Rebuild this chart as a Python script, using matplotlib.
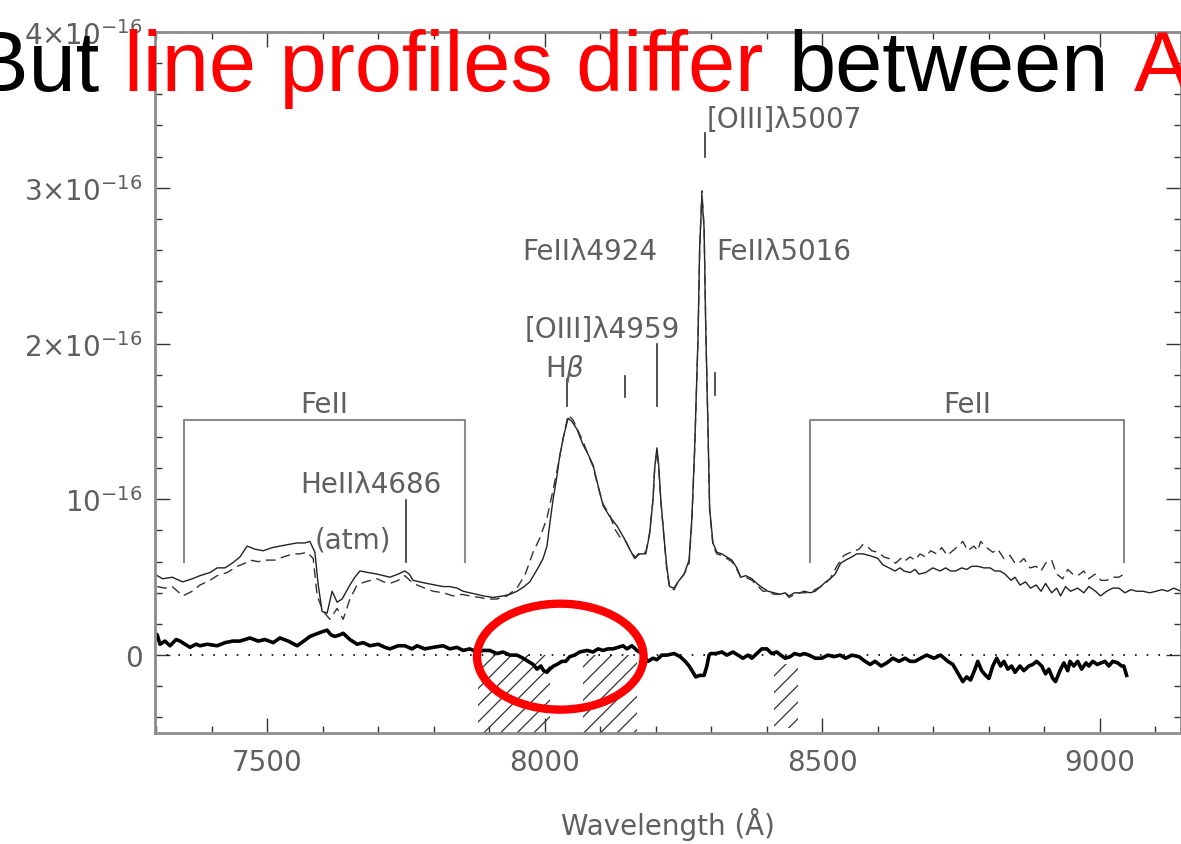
import matplotlib
matplotlib.use("Agg")
import matplotlib.pyplot as plt
from matplotlib.patches import Ellipse
from matplotlib.ticker import MultipleLocator, FixedLocator

# Fluxes are in units of 1e-16 erg/s/cm2/A, wavelengths in observed Angstrom

# spectrum A (thin solid)
wl_a = [7302, 7312, 7329, 7348, 7365, 7379, 7397, 7410, 7424, 7437, 7451, 7464, 7478, 7493,
        7509, 7523, 7538, 7554, 7568, 7577, 7586, 7592, 7599, 7608, 7617, 7626, 7635, 7649,
        7658, 7667, 7682, 7698, 7710, 7721, 7736, 7748, 7756, 7763, 7775, 7788, 7802, 7817,
        7829, 7842, 7853, 7865, 7878, 7889, 7907, 7925, 7937, 7950, 7963, 7973, 7988, 7997,
        8004, 8009, 8015, 8022, 8027, 8035, 8042, 8049, 8058, 8069, 8078, 8087, 8096, 8105,
        8117, 8130, 8143, 8153, 8162, 8171, 8182, 8189, 8195, 8198, 8202, 8205, 8209, 8215,
        8220, 8225, 8233, 8240, 8251, 8260, 8265, 8270, 8276, 8279, 8283, 8287, 8290, 8294,
        8297, 8303, 8310, 8319, 8328, 8337, 8346, 8353, 8362, 8373, 8382, 8393, 8402, 8413,
        8424, 8433, 8440, 8450, 8460, 8467, 8478, 8487, 8497, 8506, 8514, 8523, 8533, 8542,
        8553, 8562, 8573, 8584, 8593, 8600, 8609, 8620, 8631, 8640, 8647, 8658, 8667, 8674,
        8686, 8699, 8712, 8722, 8731, 8740, 8751, 8760, 8769, 8780, 8791, 8802, 8811, 8820,
        8829, 8840, 8847, 8856, 8866, 8875, 8885, 8894, 8902, 8913, 8922, 8929, 8938, 8947,
        8960, 8971, 8980, 8992, 9001, 9012, 9023, 9034, 9045, 9056, 9066, 9077, 9090, 9101,
        9112, 9122, 9133, 9146]
flux_a = [0.51, 0.49, 0.50, 0.47, 0.49, 0.51, 0.53, 0.56, 0.56, 0.59, 0.63, 0.70, 0.68, 0.67,
          0.69, 0.70, 0.71, 0.72, 0.72, 0.73, 0.66, 0.45, 0.28, 0.27, 0.41, 0.34, 0.36, 0.45,
          0.50, 0.54, 0.53, 0.52, 0.51, 0.50, 0.52, 0.54, 0.52, 0.48, 0.47, 0.46, 0.45, 0.44,
          0.44, 0.43, 0.41, 0.40, 0.39, 0.38, 0.37, 0.38, 0.39, 0.41, 0.44, 0.47, 0.56, 0.62,
          0.70, 0.84, 1.00, 1.15, 1.28, 1.42, 1.52, 1.50, 1.45, 1.35, 1.29, 1.22, 1.09, 0.96,
          0.89, 0.83, 0.75, 0.68, 0.62, 0.65, 0.65, 0.78, 1.00, 1.20, 1.33, 1.23, 1.00, 0.75,
          0.56, 0.44, 0.43, 0.47, 0.52, 0.61, 0.88, 1.33, 2.03, 2.61, 2.95, 2.74, 2.10, 1.46,
          0.94, 0.72, 0.66, 0.65, 0.63, 0.61, 0.56, 0.50, 0.51, 0.49, 0.46, 0.43, 0.41, 0.40,
          0.39, 0.40, 0.38, 0.40, 0.40, 0.41, 0.40, 0.41, 0.44, 0.47, 0.49, 0.52, 0.59, 0.61,
          0.63, 0.65, 0.65, 0.64, 0.63, 0.62, 0.58, 0.56, 0.54, 0.56, 0.54, 0.53, 0.55, 0.52,
          0.53, 0.56, 0.54, 0.56, 0.54, 0.54, 0.56, 0.55, 0.57, 0.57, 0.56, 0.56, 0.54, 0.54,
          0.52, 0.48, 0.50, 0.45, 0.47, 0.43, 0.45, 0.41, 0.46, 0.40, 0.43, 0.38, 0.44, 0.41,
          0.43, 0.40, 0.44, 0.41, 0.38, 0.41, 0.43, 0.43, 0.40, 0.42, 0.41, 0.41, 0.40, 0.41,
          0.42, 0.41, 0.43, 0.41]

# spectrum B (thin dashed)
wl_b = [7302, 7316, 7329, 7348, 7365, 7379, 7397, 7410, 7428, 7446, 7460, 7469, 7484, 7500,
        7514, 7529, 7547, 7559, 7572, 7583, 7590, 7601, 7613, 7626, 7637, 7649, 7662, 7676,
        7698, 7710, 7721, 7736, 7748, 7757, 7770, 7784, 7799, 7817, 7835, 7851, 7865, 7883,
        7896, 7914, 7932, 7950, 7965, 7979, 7991, 8004, 8015, 8024, 8033, 8042, 8051, 8060,
        8069, 8078, 8087, 8096, 8105, 8117, 8126, 8135, 8146, 8157, 8164, 8171, 8182, 8189,
        8195, 8198, 8202, 8205, 8209, 8215, 8220, 8225, 8233, 8240, 8251, 8260, 8265, 8270,
        8276, 8279, 8283, 8287, 8290, 8294, 8297, 8303, 8310, 8319, 8328, 8337, 8346, 8353,
        8362, 8373, 8382, 8393, 8402, 8413, 8424, 8433, 8440, 8450, 8460, 8470, 8481, 8492,
        8502, 8514, 8526, 8539, 8551, 8566, 8573, 8580, 8589, 8600, 8611, 8620, 8632, 8641,
        8647, 8658, 8667, 8676, 8686, 8695, 8706, 8715, 8725, 8738, 8748, 8753, 8762, 8773,
        8780, 8785, 8796, 8807, 8816, 8827, 8838, 8847, 8854, 8863, 8874, 8885, 8894, 8902,
        8913, 8922, 8933, 8942, 8951, 8960, 8971, 8980, 8991, 9002, 9012, 9023, 9034, 9043,
        9048]
flux_b = [0.44, 0.43, 0.44, 0.38, 0.41, 0.45, 0.48, 0.51, 0.53, 0.57, 0.59, 0.61, 0.60, 0.61,
          0.61, 0.63, 0.65, 0.65, 0.66, 0.62, 0.38, 0.28, 0.23, 0.30, 0.23, 0.36, 0.45, 0.47,
          0.49, 0.47, 0.46, 0.48, 0.51, 0.48, 0.45, 0.43, 0.41, 0.40, 0.38, 0.39, 0.38, 0.37,
          0.36, 0.36, 0.38, 0.43, 0.52, 0.66, 0.75, 0.88, 1.06, 1.22, 1.39, 1.54, 1.51, 1.44,
          1.37, 1.29, 1.21, 1.08, 0.97, 0.90, 0.81, 0.76, 0.73, 0.65, 0.63, 0.66, 0.66, 0.79,
          1.00, 1.20, 1.31, 1.22, 0.99, 0.74, 0.54, 0.43, 0.42, 0.47, 0.52, 0.59, 0.86, 1.31,
          2.02, 2.60, 2.98, 2.75, 2.10, 1.46, 0.93, 0.70, 0.65, 0.64, 0.62, 0.60, 0.55, 0.50,
          0.50, 0.48, 0.45, 0.41, 0.41, 0.39, 0.39, 0.40, 0.37, 0.39, 0.40, 0.40, 0.41, 0.43,
          0.45, 0.49, 0.57, 0.64, 0.66, 0.68, 0.71, 0.70, 0.67, 0.66, 0.63, 0.62, 0.59, 0.62,
          0.60, 0.63, 0.61, 0.65, 0.63, 0.67, 0.65, 0.69, 0.64, 0.68, 0.71, 0.73, 0.67, 0.70,
          0.67, 0.73, 0.69, 0.66, 0.68, 0.62, 0.64, 0.59, 0.59, 0.62, 0.56, 0.57, 0.54, 0.59,
          0.61, 0.52, 0.49, 0.55, 0.52, 0.51, 0.54, 0.49, 0.52, 0.48, 0.48, 0.50, 0.50, 0.52,
          0.54]

# A - B difference (thick)
wl_diff = [7298, 7302, 7307, 7316, 7325, 7336, 7343, 7352, 7361, 7372, 7379, 7392, 7410, 7424,
           7438, 7451, 7469, 7484, 7496, 7511, 7523, 7538, 7554, 7566, 7577, 7592, 7599, 7608,
           7615, 7622, 7631, 7637, 7649, 7662, 7673, 7685, 7700, 7712, 7721, 7736, 7748, 7761,
           7770, 7784, 7799, 7817, 7829, 7842, 7853, 7865, 7878, 7889, 7901, 7914, 7925, 7937,
           7950, 7961, 7970, 7979, 7986, 7993, 7998, 8004, 8009, 8016, 8022, 8031, 8038, 8045,
           8054, 8063, 8076, 8087, 8096, 8105, 8114, 8123, 8132, 8141, 8148, 8157, 8166, 8175,
           8186, 8195, 8202, 8211, 8220, 8233, 8244, 8253, 8260, 8267, 8272, 8279, 8287, 8292,
           8296, 8299, 8308, 8319, 8328, 8339, 8348, 8357, 8366, 8373, 8382, 8391, 8400, 8409,
           8418, 8425, 8433, 8442, 8450, 8460, 8467, 8476, 8487, 8499, 8510, 8521, 8532, 8542,
           8553, 8566, 8577, 8586, 8595, 8606, 8616, 8627, 8638, 8649, 8658, 8667, 8677, 8688,
           8701, 8713, 8726, 8735, 8740, 8748, 8753, 8760, 8767, 8775, 8780, 8787, 8794, 8800,
           8807, 8814, 8821, 8827, 8834, 8841, 8847, 8856, 8863, 8872, 8879, 8886, 8895, 8902,
           8908, 8915, 8920, 8928, 8935, 8942, 8946, 8953, 8960, 8967, 8975, 8980, 8987, 8995,
           9002, 9009, 9016, 9023, 9032, 9039, 9043, 9048]
flux_diff = [0.14, 0.13, 0.07, 0.09, 0.06, 0.10, 0.09, 0.07, 0.05, 0.07, 0.06, 0.07, 0.06, 0.08,
             0.09, 0.09, 0.11, 0.09, 0.10, 0.08, 0.11, 0.09, 0.06, 0.09, 0.12, 0.14, 0.15, 0.16,
             0.13, 0.12, 0.13, 0.14, 0.10, 0.07, 0.08, 0.06, 0.07, 0.05, 0.04, 0.06, 0.06, 0.04,
             0.06, 0.04, 0.05, 0.06, 0.04, 0.05, 0.03, 0.04, 0.02, 0.03, 0.03, 0.01, 0.02, 0.00,
             0.00, -0.02, -0.04, -0.06, -0.09, -0.07, -0.10, -0.11, -0.09, -0.07, -0.06, -0.04, -0.04, -0.01,
             0.00, 0.02, 0.03, 0.02, 0.04, 0.03, 0.04, 0.04, 0.05, 0.06, 0.04, 0.06, 0.03, 0.01,
             -0.04, -0.02, -0.03, 0.00, 0.00, 0.01, -0.01, -0.04, -0.07, -0.11, -0.14, -0.13, -0.13, -0.07,
             0.00, 0.01, 0.01, 0.02, 0.00, 0.02, 0.00, -0.02, 0.00, -0.02, 0.01, 0.04, 0.04, 0.01,
             0.02, 0.00, -0.02, -0.01, 0.01, 0.00, 0.01, 0.00, -0.02, -0.02, 0.00, -0.01, 0.00, -0.02,
             0.00, -0.01, -0.04, -0.06, -0.04, -0.07, -0.05, -0.02, -0.04, -0.02, -0.04, -0.04, -0.02, 0.00,
             -0.02, 0.00, -0.04, -0.06, -0.09, -0.14, -0.17, -0.14, -0.16, -0.09, -0.04, -0.10, -0.13, -0.15,
             -0.07, -0.02, -0.07, -0.04, -0.09, -0.07, -0.11, -0.07, -0.10, -0.07, -0.06, -0.04, -0.07, -0.12,
             -0.09, -0.15, -0.17, -0.10, -0.05, -0.10, -0.04, -0.07, -0.04, -0.09, -0.05, -0.07, -0.04, -0.06,
             -0.05, -0.04, -0.07, -0.04, -0.05, -0.07, -0.07, -0.13]

# FeII blends marked with brackets
feii_lo = [7350, 8478]
feii_hi = [7857, 9043]
feii_top = 1.51
feii_foot = 0.60

# line identifications: label position and marker stroke
line_names = ["HeIIλ4686", "(atm)", r"H$\beta$", "[OIII]λ4959", "FeIIλ4924", "FeIIλ5016", "[OIII]λ5007"]
label_wl = [7687, 7655, 8036, 8103, 8081, 8309, 8291]
label_flux = [1.05, 0.69, 1.79, 2.04, 2.545, 2.545, 3.39]
label_ha = ["center", "center", "center", "center", "center", "left", "left"]
mark_wl = [7750, None, 8040, 8203, 8144, 8307, 8289]
mark_lo = [0.60, None, 1.60, 1.60, 1.66, 1.67, 3.20]
mark_hi = [0.995, None, 1.775, 2.00, 1.79, 1.81, 3.35]

# hatched bad-pixel regions under the residual
hatch_lo_wl = [7880, 8069, 8413]
hatch_hi_wl = [8010, 8166, 8456]
hatch_bottom = [-0.5, -0.5, -0.47]
hatch_top = [0.0, 0.0, -0.06]

GREY = "#5f5f5f"

fig = plt.figure(figsize=(11.81, 8.45), dpi=100)
ax = fig.add_axes([155 / 1181, 111 / 845, 1026 / 1181, 701 / 845])

ax.plot(wl_a, flux_a, color="#222222", lw=1.0)
ax.plot(wl_b, flux_b, color="#333333", lw=1.0, ls=(0, (7, 4)))
ax.plot(wl_diff, flux_diff, color="black", lw=2.6)
ax.axhline(0, color="black", lw=1.2, ls=(0, (1, 6)))

plt.rcParams["hatch.linewidth"] = 0.9
for lo, hi, yb, yt in zip(hatch_lo_wl, hatch_hi_wl, hatch_bottom, hatch_top):
    ax.fill_between([lo, hi], [yb, yb], [yt, yt], facecolor="none",
                    edgecolor="#333333", hatch="//", linewidth=0)

for lo, hi in zip(feii_lo, feii_hi):
    ax.plot([lo, lo, hi, hi], [feii_foot, feii_top, feii_top, feii_foot], color="#8a8a8a", lw=1.5)
    ax.text((lo + hi) / 2, feii_top + 0.05, "FeII", color=GREY, fontsize=20,
            ha="center", va="baseline")

for name, x, y, ha, mx, m0, m1 in zip(line_names, label_wl, label_flux, label_ha,
                                      mark_wl, mark_lo, mark_hi):
    ax.text(x, y, name, color=GREY, fontsize=20, ha=ha, va="baseline")
    if mx is not None:
        ax.plot([mx, mx], [m0, m1], color="#333333", lw=1.2)

ax.add_patch(Ellipse((8028, -0.01), 300, 0.68, fill=False, edgecolor="red",
                     lw=6, zorder=10, clip_on=False))

ax.set_xlim(7298, 9146)
ax.set_ylim(-0.5, 4.0)
ax.xaxis.set_major_locator(MultipleLocator(500))
ax.xaxis.set_minor_locator(MultipleLocator(100))
ax.yaxis.set_major_locator(FixedLocator([0, 1, 2, 3, 4]))
ax.yaxis.set_minor_locator(MultipleLocator(0.2))
ax.set_yticklabels(["0", r"$10^{-16}$", r"$2{\times}10^{-16}$",
                    r"$3{\times}10^{-16}$", r"$4{\times}10^{-16}$"])
ax.tick_params(which="both", direction="in", top=True, right=True,
               colors="#333333", labelcolor=GREY, labelsize=20, width=1.0)
ax.tick_params(which="major", length=11)
ax.tick_params(which="minor", length=5)
ax.tick_params(axis="x", pad=11)
ax.tick_params(axis="y", pad=9)
for s in ax.spines.values():
    s.set_color("#8c8c8c")
    s.set_linewidth(2)
ax.set_xlabel("Wavelength (Å)", color=GREY, fontsize=20, labelpad=22)

# slide heading over the figure
x0 = -28 / 1181
y0 = (845 - 91) / 845
t = fig.text(x0, y0, "But", fontsize=61, family="Liberation Sans",
             color="black", va="baseline", zorder=20)
for word, col in [("line profiles differ", "red"), ("between", "black"), ("A", "red")]:
    t = ax.annotate(word, xy=(1, 0), xycoords=t, xytext=(18, 0), textcoords="offset points",
                    fontsize=61, family="Liberation Sans", color=col,
                    va="bottom", ha="left", zorder=20, annotation_clip=False)

fig.savefig("out.png", dpi=100)
